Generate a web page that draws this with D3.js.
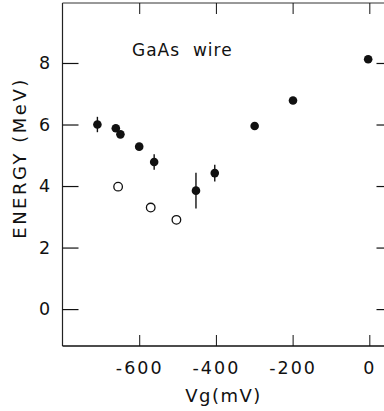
<!DOCTYPE html>
<html><head><meta charset="utf-8">
<script src="https://cdn.jsdelivr.net/npm/d3@7"></script>
<style>body{margin:0;background:#fff}svg{display:block}text{font-family:"DejaVu Sans",sans-serif;fill:#111}</style>
</head><body>
<svg id="c" width="384" height="411"></svg>
<script>
// filled points
const filledVg = [-709, -661, -649, -600, -561, -452, -403, -299, -199, -3];
const filledE  = [6.0, 5.88, 5.68, 5.28, 4.78, 3.85, 4.42, 5.95, 6.78, 8.12];
const filledErr= [0.25, 0.1, 0, 0, 0.25, 0.58, 0.27, 0, 0, 0];
// open points
const openVg = [-655, -570, -503];
const openE  = [3.98, 3.30, 2.90];
const xTicks = [-600, -400, -200, 0];
const yTicks = [0, 2, 4, 6, 8];

const svg = d3.select("#c");
const L = 62.5, R = 388.5, T = 3, B = 346;
const x = d3.scaleLinear().domain([-800, 50]).range([L, R]);
const y = d3.scaleLinear().domain([-1.2, 9.95]).range([B, T]);

// frame
svg.append("line").attr("x1", L).attr("x2", L).attr("y1", T).attr("y2", B).attr("stroke", "#222").attr("stroke-width", 1.2);
svg.append("line").attr("x1", L).attr("x2", R).attr("y1", T).attr("y2", T).attr("stroke", "#333").attr("stroke-width", 1);
svg.append("line").attr("x1", L).attr("x2", R).attr("y1", B).attr("y2", B).attr("stroke", "#111").attr("stroke-width", 1.6);
svg.append("line").attr("x1", R).attr("x2", R).attr("y1", T).attr("y2", B).attr("stroke", "#111").attr("stroke-width", 1.2);

// axes via d3 with inward ticks
const gx = svg.append("g").attr("transform", `translate(0,${B})`)
  .call(d3.axisBottom(x).tickValues(xTicks).tickSize(-11).tickPadding(16).tickFormat(d => d === 0 ? "0" : "-" + Math.abs(d)));
gx.select(".domain").remove();
gx.selectAll("line").attr("stroke", "#111").attr("stroke-width", 1);
gx.selectAll("text").attr("font-size", 17.5).attr("letter-spacing", "2px").attr("dy", "0.71em");

const gxt = svg.append("g").attr("transform", `translate(0,${T})`)
  .call(d3.axisTop(x).tickValues(xTicks).tickSize(-11).tickFormat(""));
gxt.select(".domain").remove();
gxt.selectAll("line").attr("stroke", "#111").attr("stroke-width", 1);

const gy = svg.append("g").attr("transform", `translate(${L},0)`)
  .call(d3.axisLeft(y).tickValues(yTicks).tickSize(-16).tickPadding(12).tickFormat(d3.format("d")));
gy.select(".domain").remove();
gy.selectAll("line").attr("stroke", "#111").attr("stroke-width", 1.2);
gy.selectAll("text").attr("font-size", 17.5).attr("text-anchor", "middle").attr("x", -18);

const gyr = svg.append("g").attr("transform", `translate(${R},0)`)
  .call(d3.axisRight(y).tickValues(yTicks).tickSize(-12).tickFormat(""));
gyr.select(".domain").remove();
gyr.selectAll("line").attr("stroke", "#111").attr("stroke-width", 1.2);

// labels
svg.append("text").attr("x", (L + R) / 2 - 2).attr("y", 402).attr("text-anchor", "middle")
  .attr("font-size", 18).attr("letter-spacing", "1.5px").text("Vg(mV)");
svg.append("text").attr("transform", "translate(26,158) rotate(-90)").attr("text-anchor", "middle")
  .attr("font-size", 18).attr("letter-spacing", "2.5px").text("ENERGY (MeV)");
svg.append("text").attr("x", 132).attr("y", 56).attr("font-size", 17)
  .attr("letter-spacing", "1px").attr("xml:space", "preserve").style("white-space", "pre").text("GaAs  wire");

// error bars
const filled = filledVg.map((v, i) => ({v, e: filledE[i], err: filledErr[i]}));
svg.selectAll(".err").data(filled.filter(d => d.err > 0)).join("line")
  .attr("x1", d => x(d.v)).attr("x2", d => x(d.v))
  .attr("y1", d => y(d.e + d.err)).attr("y2", d => y(d.e - d.err))
  .attr("stroke", "#111").attr("stroke-width", 1.4);
svg.selectAll(".fp").data(filled).join("circle")
  .attr("cx", d => x(d.v)).attr("cy", d => y(d.e)).attr("r", 4.3).attr("fill", "#111");
svg.selectAll(".op").data(openVg.map((v, i) => ({v, e: openE[i]}))).join("circle")
  .attr("cx", d => x(d.v)).attr("cy", d => y(d.e)).attr("r", 4.3)
  .attr("fill", "#fff").attr("stroke", "#111").attr("stroke-width", 1.3);
</script>
</body></html>
